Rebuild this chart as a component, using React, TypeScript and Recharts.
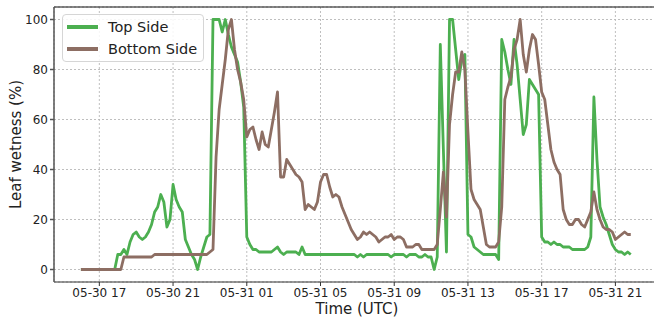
import { LineChart, Line, XAxis, YAxis, CartesianGrid, ReferenceLine } from 'recharts'

// readings every 10 min, starting 05-30 16:00 UTC
const START_HOUR = 16
const STEP_HOURS = 1 / 6

const topSide = [
  0, 0, 0, 0, 0, 0, 0, 0, 0, 0,
  0, 0, 6, 6, 8, 6, 11, 14, 15, 13,
  12, 13, 15, 18, 23, 25, 30, 27, 17, 20,
  34, 28, 25, 23, 12, 9, 6, 4, 0, 5,
  9, 13, 14, 100, 100, 100, 95, 100, 94, 89,
  86, 83, 75, 65, 13, 10, 8, 8, 7, 7,
  7, 7, 7, 8, 9, 7, 6, 7, 7, 7,
  7, 6, 9, 6, 6, 6, 6, 6, 6, 6,
  6, 6, 6, 6, 6, 6, 6, 6, 6, 6,
  5, 6, 5, 6, 6, 6, 6, 6, 6, 6,
  6, 5, 6, 6, 6, 6, 5, 6, 6, 6,
  5, 5, 6, 5, 5, 0, 5, 90, 48, 7,
  100, 100, 88, 76, 84, 86, 14, 13, 9, 8,
  7, 6, 6, 6, 6, 6, 4, 92, 87, 80,
  74, 92, 82, 68, 54, 58, 76, 74, 72, 70,
  13, 11, 11, 10, 11, 10, 10, 9, 9, 9,
  8, 8, 8, 8, 8, 9, 13, 69, 44, 25,
  21, 18, 14, 10, 8, 7, 7, 6, 7, 6,
]

const bottomSide = [
  0, 0, 0, 0, 0, 0, 0, 0, 0, 0,
  0, 0, 0, 0, 5, 5, 5, 5, 5, 5,
  5, 5, 5, 5, 6, 6, 6, 6, 6, 6,
  6, 6, 6, 6, 6, 6, 6, 6, 6, 6,
  6, 6, 7, 8, 45, 64, 74, 84, 96, 100,
  88, 80, 75, 68, 53, 56, 57, 52, 48, 55,
  50, 49, 56, 63, 71, 37, 37, 44, 42, 40,
  38, 37, 35, 24, 26, 25, 24, 27, 35, 38,
  38, 33, 29, 30, 29, 25, 22, 19, 16, 14,
  12, 13, 15, 14, 15, 14, 13, 11, 12, 13,
  13, 14, 12, 13, 13, 12, 9, 9, 9, 10,
  10, 8, 8, 8, 8, 8, 10, 24, 39, 21,
  58, 70, 79, 79, 87, 80, 55, 32, 28, 26,
  24, 17, 10, 9, 9, 9, 11, 25, 68, 73,
  77, 88, 92, 100, 86, 79, 88, 94, 92, 82,
  71, 68, 58, 48, 43, 40, 38, 24, 20, 18,
  18, 20, 20, 18, 17, 20, 23, 31, 24, 20,
  17, 16, 16, 15, 12, 13, 14, 15, 14, 14,
]

// hours counted from 05-30 00:00
const tickHours = [17, 21, 25, 29, 33, 37, 41, 45]
const tickLabels = ['05-30 17', '05-30 21', '05-31 01', '05-31 05', '05-31 09', '05-31 13', '05-31 17', '05-31 21']
const yTicks = [0, 20, 40, 60, 80, 100]

const GREEN = '#4caf50'
const BROWN = '#8d6e63'
const FONT = '"DejaVu Sans", sans-serif'
const INK = '#222'

const times = topSide.map((_, i) => START_HOUR + i * STEP_HOURS)

function LegendBox() {
  const items = [
    { name: 'Top Side', color: GREEN },
    { name: 'Bottom Side', color: BROWN },
  ]
  return (
    <div
      style={{
        position: 'absolute', left: 62, top: 14, width: 142, height: 48,
        border: '1px solid #d6d6d6', borderRadius: 4, background: 'rgba(255,255,255,0.85)',
        fontFamily: FONT, fontSize: 14.5, color: INK, boxSizing: 'border-box',
      }}
    >
      {items.map((it, i) => (
        <div key={it.name} style={{ position: 'absolute', left: 4, top: 4 + i * 22, height: 16, display: 'flex', alignItems: 'center' }}>
          <span style={{ display: 'inline-block', width: 31, height: 3.5, background: it.color }} />
          <span style={{ marginLeft: 10, whiteSpace: 'nowrap' }}>{it.name}</span>
        </div>
      ))}
    </div>
  )
}

export default function App() {
  const rows = times.map((t, i) => ({ t, top: topSide[i], bottom: bottomSide[i] }))
  return (
    <div style={{ position: 'absolute', left: 0, top: 0, width: 654, height: 318, overflow: 'hidden', background: '#fff' }}>
      <LineChart width={660} height={318} data={rows} margin={{ top: 7, right: 0, bottom: 0, left: 0 }}>
        <CartesianGrid stroke="#b8b8b8" strokeDasharray="2 2" strokeWidth={0.9} />
        <XAxis
          type="number"
          dataKey="t"
          domain={[14.54, 47.42]}
          allowDataOverflow
          ticks={tickHours}
          tickFormatter={(v) => tickLabels[tickHours.indexOf(v)]}
          height={36}
          tickSize={4}
          stroke="#333"
          tick={{ fontSize: 12, fill: INK, fontFamily: FONT }}
          label={{ value: 'Time (UTC)', position: 'insideBottom', offset: 4, fontSize: 15, fill: INK, fontFamily: FONT }}
        />
        <YAxis
          type="number"
          domain={[-5, 105]}
          allowDataOverflow
          ticks={yTicks}
          width={54}
          tickSize={4}
          stroke="#555"
          strokeWidth={1.5}
          tick={{ fontSize: 12, fill: INK, fontFamily: FONT }}
          label={{
            content: (p: any) => {
              const vb = p.viewBox
              const cx = vb.x + 16
              const cy = vb.y + vb.height / 2
              return (
                <text x={cx} y={cy} transform={`rotate(-90 ${cx} ${cy})`} textAnchor="middle" dominantBaseline="central"
                  fontSize={15} fill={INK} fontFamily={FONT}>
                  Leaf wetness (%)
                </text>
              )
            },
          }}
        />
        <ReferenceLine y={105} stroke="#111" strokeWidth={1} />
        <Line type="linear" dataKey="top" name="Top Side" stroke={GREEN} strokeWidth={2.8} strokeLinejoin="round" dot={false} isAnimationActive={false} />
        <Line type="linear" dataKey="bottom" name="Bottom Side" stroke={BROWN} strokeWidth={2.8} strokeLinejoin="round" dot={false} isAnimationActive={false} />
      </LineChart>
      <LegendBox />
    </div>
  )
}
